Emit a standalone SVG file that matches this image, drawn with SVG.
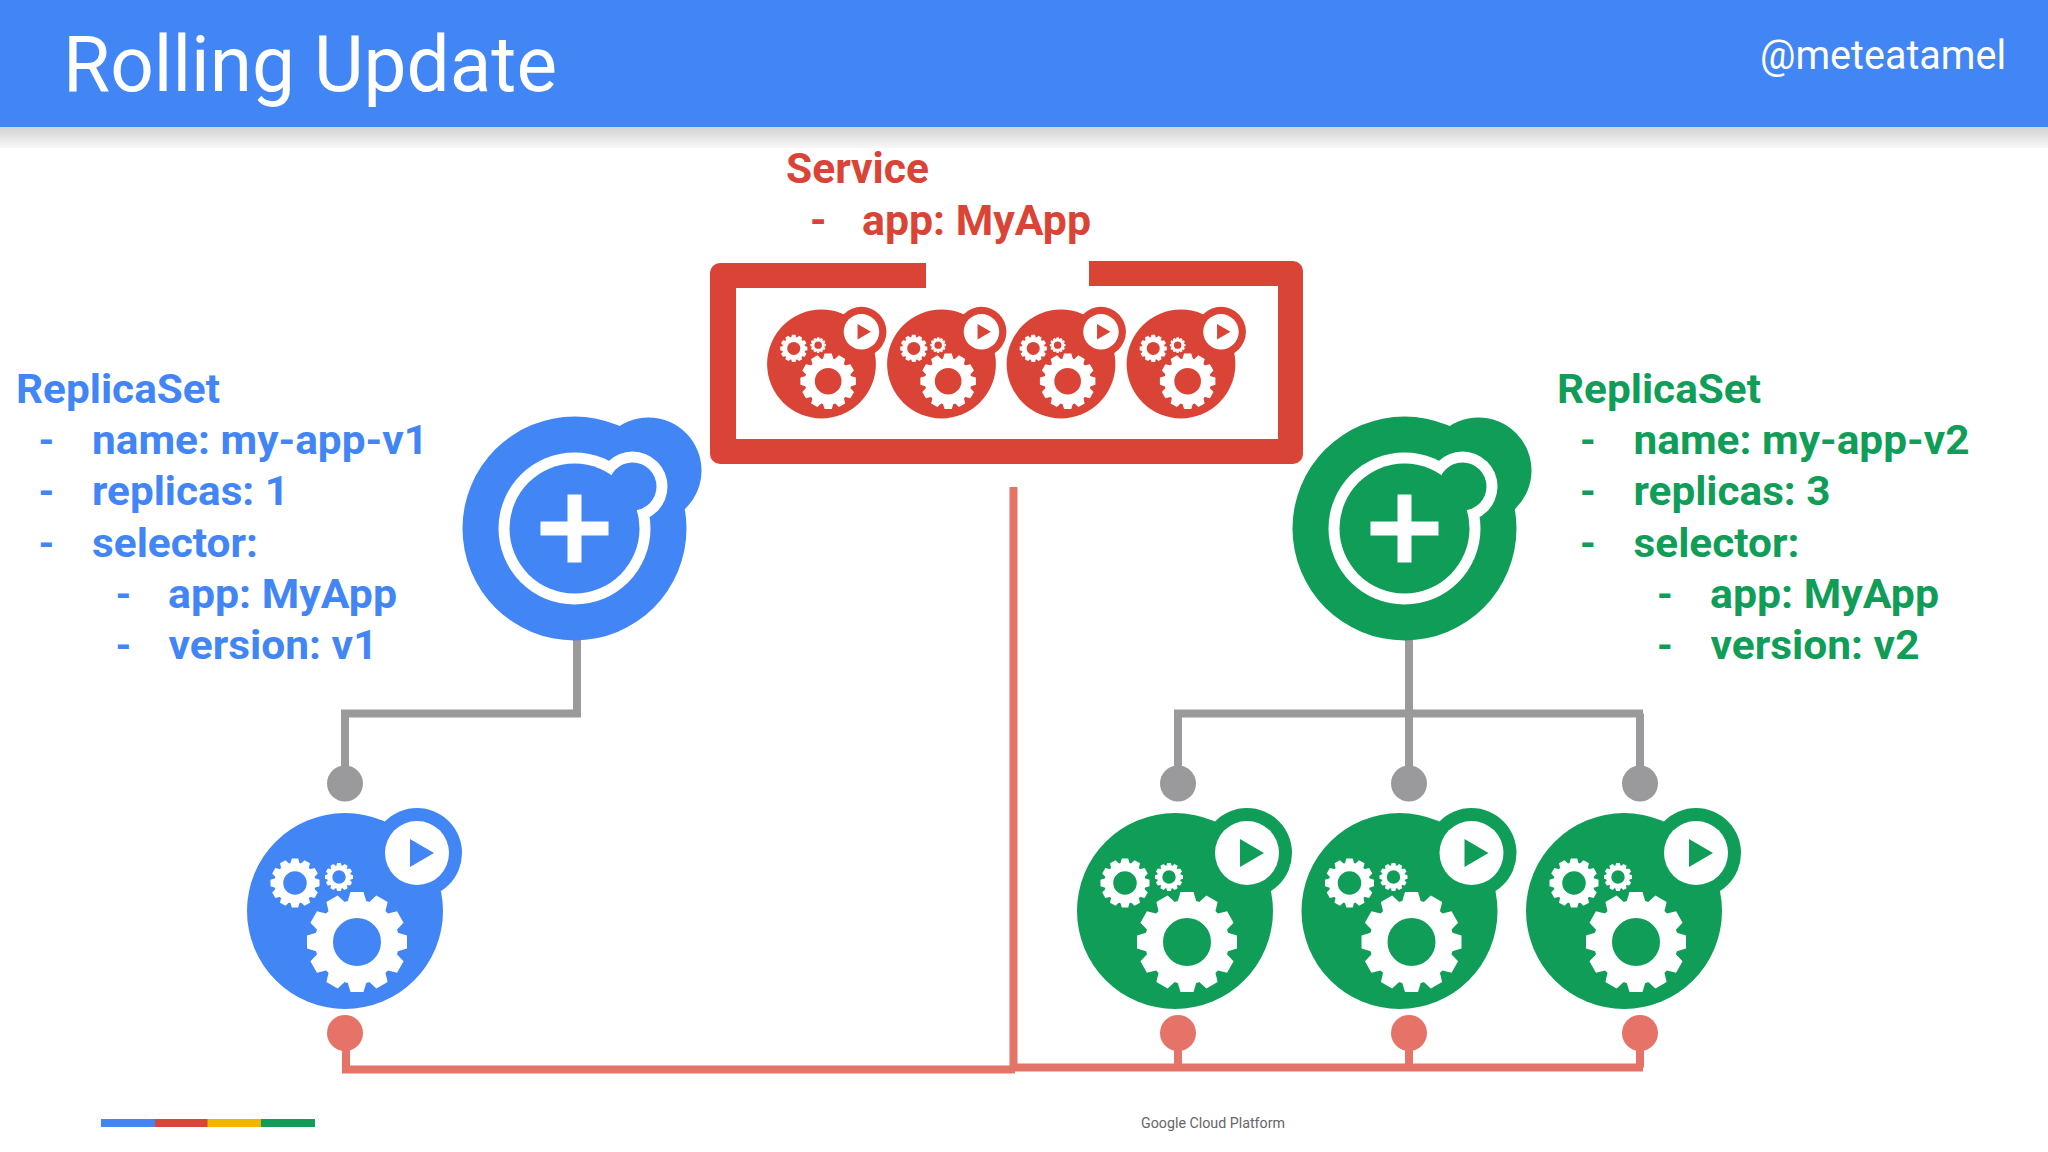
<svg xmlns="http://www.w3.org/2000/svg" width="2048" height="1152" viewBox="0 0 2048 1152">
<style>
text{font-family:Roboto,"Liberation Sans",sans-serif}
.b{font-size:40px;font-weight:700;fill:#4285f4}
.g{font-size:40px;font-weight:700;fill:#0f9d58}
.r{font-size:42px;font-weight:700;fill:#d94436}
.conn{fill:none;stroke-width:8}
.grey{stroke:#9a999b}
.sal{stroke:#e57368}
.dg{fill:#9a999b}
.ds{fill:#e57368}
.w{fill:#fff;stroke:none}
.blue{color:#4285f4}
.green{color:#0f9d58}
.red{color:#d94436}
</style>
<defs>
<linearGradient id="sh" x1="0" y1="0" x2="0" y2="1"><stop offset="0" stop-color="#d0d0d0"/><stop offset="1" stop-color="#f8f8f8"/></linearGradient>
<path id="tooth" d="M-9.500-40-6.500-50H6.500L9.500-40Z" fill="#fff"/>
<g id="gear">
<circle r="33" fill="none" stroke="#fff" stroke-width="18"/>
<use href="#tooth"/>
<use href="#tooth" transform="rotate(30)"/>
<use href="#tooth" transform="rotate(60)"/>
<use href="#tooth" transform="rotate(90)"/>
<use href="#tooth" transform="rotate(120)"/>
<use href="#tooth" transform="rotate(150)"/>
<use href="#tooth" transform="rotate(180)"/>
<use href="#tooth" transform="rotate(210)"/>
<use href="#tooth" transform="rotate(240)"/>
<use href="#tooth" transform="rotate(270)"/>
<use href="#tooth" transform="rotate(300)"/>
<use href="#tooth" transform="rotate(330)"/>
</g>
<g id="pod">
<circle r="98" fill="currentColor"/>
<circle cx="72" cy="-58" r="45" fill="currentColor"/>
<circle cx="72" cy="-58" r="32" class="w"/>
<path d="M65-72 89-58 65-44Z" fill="currentColor"/>
<use href="#gear" transform="translate(12,31)"/>
<use href="#gear" transform="translate(-50,-28) scale(.49)"/>
<use href="#gear" transform="translate(-6,-34) scale(.28)"/>
</g>
<g id="rs">
<circle r="112" fill="currentColor"/>
<circle cx="74" cy="-58" r="53" fill="currentColor"/>
<circle r="76" class="w"/>
<circle cx="58" cy="-42" r="35" class="w"/>
<circle r="65" fill="currentColor"/>
<circle cx="58" cy="-42" r="24" fill="currentColor"/>
<path d="M-34-7H-7V-34H7V-7H34V7H7V34H-7V7H-34Z" class="w"/>
</g>
</defs>
<rect width="2048" height="1152" fill="#fff"/>
<g id="header">
<rect y="126" width="2048" height="22" fill="url(#sh)"/>
<rect width="2048" height="127" fill="#4285f4"/>
<text x="63" y="91" font-size="77" fill="#fff" textLength="494" lengthAdjust="spacingAndGlyphs">Rolling Update</text>
<text x="1760" y="69" font-size="40" fill="#fff" textLength="246" lengthAdjust="spacingAndGlyphs">@meteatamel</text>
</g>
<g id="connectors">
<path class="conn grey" d="M577 640V713.500H345V783"/>
<path class="conn grey" d="M1409 640V783M1174 713.500H1643M1178 713.500V783M1640 713.500V783"/>
<path class="conn sal" d="M1013.500 487V1070"/>
<path class="conn sal" d="M346 1033V1069.500H1015"/>
<path class="conn sal" d="M1178 1033V1067.500M1409 1033V1067.500M1640 1033V1067.500M1013 1067.500H1643"/>
<circle class="dg" cx="345" cy="783.500" r="18"/><circle class="dg" cx="1178" cy="783.500" r="18"/><circle class="dg" cx="1409" cy="783.500" r="18"/><circle class="dg" cx="1640" cy="783.500" r="18"/>
<circle class="ds" cx="345" cy="1033" r="18"/><circle class="ds" cx="1178" cy="1033" r="18"/><circle class="ds" cx="1409" cy="1033" r="18"/><circle class="ds" cx="1640" cy="1033" r="18"/>
</g>
<g id="service">
<path fill="#d94436" d="M720 263H926V288H736V439H1278V286H1089V261H1293A10 10 0 0 1 1303 271V454A10 10 0 0 1 1293 464H720A10 10 0 0 1 710 454V273A10 10 0 0 1 720 263Z"/>
<use href="#pod" class="red" transform="translate(821.500,364) scale(.555)"/>
<use href="#pod" class="red" transform="translate(941.500,364) scale(.555)"/>
<use href="#pod" class="red" transform="translate(1061,364) scale(.555)"/>
<use href="#pod" class="red" transform="translate(1181,364) scale(.555)"/>
</g>
<g id="service-label">
<text class="r" x="786" y="183" textLength="143" lengthAdjust="spacingAndGlyphs">Service</text>
<text class="r" x="810" y="235">-</text>
<text class="r" x="862" y="235" textLength="229" lengthAdjust="spacingAndGlyphs">app: MyApp</text>
</g>
<g id="replicaset-v1"><use href="#rs" class="blue" transform="translate(574.500,528.500)"/></g>
<g id="replicaset-v2"><use href="#rs" class="green" transform="translate(1404.500,528.500)"/></g>
<g id="pod-v1"><use href="#pod" class="blue" transform="translate(345,911)"/></g>
<g id="pod-v2-1"><use href="#pod" class="green" transform="translate(1175,911)"/></g>
<g id="pod-v2-2"><use href="#pod" class="green" transform="translate(1399.500,911)"/></g>
<g id="pod-v2-3"><use href="#pod" class="green" transform="translate(1624,911)"/></g>
<g id="label-v1">
<text class="b" x="16" y="403" textLength="204" lengthAdjust="spacingAndGlyphs">ReplicaSet</text>
<text class="b" x="38.500" y="454">-</text><text class="b" x="92" y="454" textLength="336" lengthAdjust="spacingAndGlyphs">name: my-app-v1</text>
<text class="b" x="38.500" y="505">-</text><text class="b" x="92" y="505" textLength="197" lengthAdjust="spacingAndGlyphs">replicas: 1</text>
<text class="b" x="38.500" y="557">-</text><text class="b" x="92" y="557" textLength="166" lengthAdjust="spacingAndGlyphs">selector:</text>
<text class="b" x="115.500" y="608">-</text><text class="b" x="168" y="608" textLength="229" lengthAdjust="spacingAndGlyphs">app: MyApp</text>
<text class="b" x="115.500" y="659">-</text><text class="b" x="168.500" y="659" textLength="209" lengthAdjust="spacingAndGlyphs">version: v1</text>
</g>
<g id="label-v2">
<text class="g" x="1557" y="403" textLength="204" lengthAdjust="spacingAndGlyphs">ReplicaSet</text>
<text class="g" x="1580" y="454">-</text><text class="g" x="1633.500" y="454" textLength="336" lengthAdjust="spacingAndGlyphs">name: my-app-v2</text>
<text class="g" x="1580" y="505">-</text><text class="g" x="1633.500" y="505" textLength="197" lengthAdjust="spacingAndGlyphs">replicas: 3</text>
<text class="g" x="1580" y="557">-</text><text class="g" x="1633.500" y="557" textLength="166" lengthAdjust="spacingAndGlyphs">selector:</text>
<text class="g" x="1657" y="608">-</text><text class="g" x="1710" y="608" textLength="229" lengthAdjust="spacingAndGlyphs">app: MyApp</text>
<text class="g" x="1657" y="659">-</text><text class="g" x="1710.500" y="659" textLength="209" lengthAdjust="spacingAndGlyphs">version: v2</text>
</g>
<g id="footer">
<rect x="101" y="1119" width="55" height="8" fill="#4285f4"/>
<rect x="155" y="1119" width="53" height="8" fill="#db4437"/>
<rect x="207.500" y="1119" width="53.500" height="8" fill="#f4b400"/>
<rect x="261" y="1119" width="54" height="8" fill="#0f9d58"/>
<text x="1141" y="1128" font-size="14" fill="#666" textLength="144" lengthAdjust="spacingAndGlyphs">Google Cloud Platform</text>
</g>
</svg>
